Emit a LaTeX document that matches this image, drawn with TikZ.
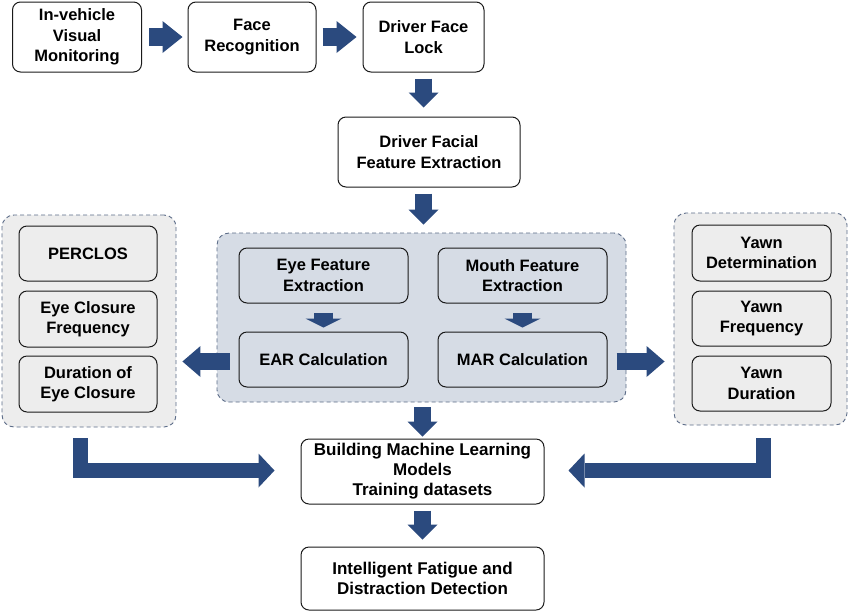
\documentclass[tikz,border=0pt]{standalone}
\usepackage{fontspec}
\setmainfont{Liberation Sans}
\usetikzlibrary{arrows.meta}
\definecolor{arrowblue}{HTML}{2B4A7E}
\definecolor{dashblue}{HTML}{5B6B87}
\definecolor{panelgray}{HTML}{EDEDED}
\definecolor{panelblue}{HTML}{D6DCE5}
\definecolor{boxline}{HTML}{1A1A1A}
\begin{document}
\begin{tikzpicture}[x=1pt,y=-1pt,
  box/.style={draw=boxline,line width=1pt,rounded corners=8pt,align=center,
    inner sep=0pt,font=\bfseries\fontsize{16.5}{20.5}\selectfont},
  whitebox/.style={box,fill=white},
  graybox/.style={box,fill=panelgray},
  bluebox/.style={box,fill=panelblue},
  panel/.style={draw=dashblue,line width=0.9pt,dash pattern=on 4pt off 3pt,rounded corners=12pt,inner sep=0pt},
  hbig/.style={draw=arrowblue,line width=18pt,-{Triangle[length=20pt,width=32pt,line width=0pt]}},
  vbig/.style={draw=arrowblue,line width=17pt,-{Triangle[length=15pt,width=30pt,line width=0pt]}},
  vsmall/.style={draw=arrowblue,line width=19pt,-{Triangle[length=9pt,width=36pt,line width=0pt]}},
  side/.style={draw=arrowblue,line width=17pt,-{Triangle[length=18pt,width=31pt,line width=0pt]}},
  ell/.style={draw=arrowblue,line width=15pt,line join=miter,-{Triangle[length=16pt,width=34pt,line width=0pt]}},
]
\useasboundingbox (0,0) rectangle (850,611);
% panels
\node[panel,fill=panelgray,minimum width=174pt,minimum height=212pt] (lpanel) at (89,321) {};
\node[panel,fill=panelblue,minimum width=409pt,minimum height=169pt] (cpanel) at (421.5,317.5) {};
\node[panel,fill=panelgray,minimum width=173pt,minimum height=212pt] (rpanel) at (760.5,319) {};
% top row
\node[whitebox,minimum width=129pt,minimum height=70pt] (top1) at (77,37) {In-vehicle\\Visual\\Monitoring};
\node[whitebox,minimum width=128pt,minimum height=70pt] (top2) at (252,37) {Face\\Recognition};
\node[whitebox,minimum width=121pt,minimum height=70pt] (top3) at (423.5,37) {Driver Face\\Lock};
\node[whitebox,minimum width=182pt,minimum height=70pt] (feat) at (429,152) {Driver Facial\\Feature Extraction};
% left panel boxes
\node[graybox,minimum width=138pt,minimum height=55pt] (perclos) at (88,253.5) {PERCLOS};
\node[graybox,minimum width=138pt,minimum height=56pt] (ecf) at (88,319) {Eye Closure\\Frequency};
\node[graybox,minimum width=138pt,minimum height=56pt] (dur) at (88,384) {Duration of\\Eye Closure};
% center panel boxes
\node[bluebox,minimum width=169pt,minimum height=55pt] (eye) at (323.5,275.5) {Eye Feature\\Extraction};
\node[bluebox,minimum width=169pt,minimum height=55pt] (ear) at (323.5,359.5) {EAR Calculation};
\node[bluebox,minimum width=169pt,minimum height=55pt] (mouth) at (522.5,275.5) {Mouth Feature\\Extraction};
\node[bluebox,minimum width=169pt,minimum height=55pt] (mar) at (522.5,359.5) {MAR Calculation};
% right panel boxes
\node[graybox,minimum width=139pt,minimum height=56pt] (yd) at (761.5,253) {Yawn\\Determination};
\node[graybox,minimum width=139pt,minimum height=55pt] (yf) at (761.5,318.5) {Yawn\\Frequency};
\node[graybox,minimum width=139pt,minimum height=55pt] (ydur) at (761.5,383.5) {Yawn\\Duration};
% bottom
\node[whitebox,minimum width=243pt,minimum height=65pt,font=\bfseries\fontsize{17}{20}\selectfont] (build) at (422.5,471.5) {Building Machine Learning\\Models\\Training datasets};
\node[whitebox,minimum width=243pt,minimum height=63pt,font=\bfseries\fontsize{17}{20.5}\selectfont] (intel) at (422.5,578.5) {Intelligent Fatigue and\\Distraction Detection};
% arrows top row
\draw[hbig,shorten <=7pt,shorten >=5pt] (top1.east) -- (top2.west);
\draw[hbig,shorten <=6pt,shorten >=6pt] (top2.east) -- (top3.west);
% down arrows
\draw[vbig,shorten <=6pt,shorten >=9pt] (top3.south) -- (top3.south |- feat.north);
\draw[vbig,shorten <=6pt,shorten >=8pt] (top3.south |- feat.south) -- (top3.south |- cpanel.north);
\draw[vbig,shorten <=5pt,shorten >=2pt] (build.north |- cpanel.south) -- (build.north);
\draw[vbig,shorten <=6pt,shorten >=7pt] (build.south) -- (intel.north);
% small arrows inside center panel
\draw[vsmall,shorten <=9pt,shorten >=4pt] (eye.south) -- (ear.north);
\draw[vsmall,shorten <=9pt,shorten >=4pt] (mouth.south) -- (mar.north);
% side arrows
\coordinate (earleft) at (ear.west |- 0,361.5);
\coordinate (marright) at (mar.east |- 0,361.5);
\draw[side,shorten <=9pt,shorten >=6pt] (earleft) -- (lpanel.east |- earleft);
\draw[side,shorten <=9pt,shorten >=9pt] (marright) -- (rpanel.west |- marright);
% L arrows
\coordinate (lbend) at (80,470.5);
\coordinate (rbend) at (763.5,470.5);
\draw[ell,shorten <=11pt,shorten >=26pt] (lpanel.south -| lbend) -- (lbend) -- (build.west |- lbend);
\draw[ell,shorten <=13pt,shorten >=24pt] (rpanel.south -| rbend) -- (rbend) -- (build.east |- rbend);
\end{tikzpicture}
\end{document}
